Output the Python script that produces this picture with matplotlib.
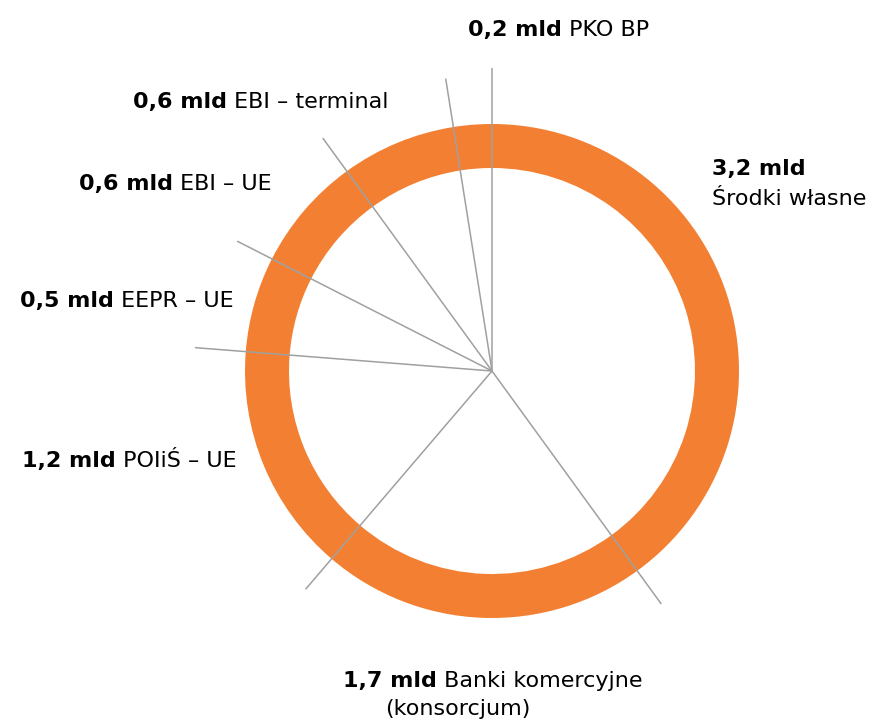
import numpy as np
import matplotlib.pyplot as plt

plt.rcParams['font.family'] = ['DejaVu Sans']

# source of financing, billions PLN (clockwise from top)
names = ["Środki własne", "Banki komercyjne", "POIiŚ – UE", "EEPR – UE",
         "EBI – UE", "EBI – terminal", "PKO BP"]
values = [3.2, 1.7, 1.2, 0.5, 0.6, 0.6, 0.2]

W, H = 877, 724
cx, cy = 492, H - 371      # ring centre in pixels
R_out, ring_w = 247, 44
line_len = [288, 287, 298, 286, 288, 296, 303]   # leader line lengths
orange = "#F38032"
grey = "#A0A0A0"

fig = plt.figure(figsize=(W / 100, H / 100), dpi=100)
ax = fig.add_axes([0, 0, 1, 1])

ax.pie(values, colors=[orange] * len(values), startangle=90, counterclock=False,
       radius=R_out, center=(cx, cy),
       wedgeprops=dict(width=ring_w, linewidth=0))

# boundary lines, one after every segment (clockwise)
angles = 90 - 360 * np.cumsum(values) / np.sum(values)
for a, L in zip(angles, line_len):
    t = np.deg2rad(a)
    ax.plot([cx, cx + L * np.cos(t)], [cy, cy + L * np.sin(t)],
            color=grey, lw=1.1, solid_capstyle='butt', zorder=3)

ax.set_xlim(0, W)
ax.set_ylim(0, H)
ax.axis('off')

fs = 16


def fmt(v):
    return ("%.1f" % v).replace(".", ",") + " mld"


def label(x, y, v, name):
    t = ax.text(x, H - y, fmt(v), fontsize=fs, fontweight='bold',
                va='baseline', ha='left', color='black')
    ax.annotate(" " + name, xy=(1, H - y), xycoords=(t, 'data'), fontsize=fs,
                va='baseline', ha='left', color='black')


# label anchors (left x, baseline y in pixels from top)
pos = {
    1: (343, 687),
    2: (22, 467),
    3: (20, 307),
    4: (79, 190),
    5: (133, 108),
    6: (468, 36),
}

# Środki własne: value above name
ax.text(712, H - 175, fmt(values[0]), fontsize=fs, fontweight='bold',
        va='baseline', ha='left')
ax.text(712, H - 205, names[0], fontsize=fs, va='baseline', ha='left')

for i, (x, y) in pos.items():
    label(x, y, values[i], names[i])

ax.text(385, H - 715, "(konsorcjum)", fontsize=fs, va='baseline', ha='left')

fig.savefig("out.png", dpi=100)
